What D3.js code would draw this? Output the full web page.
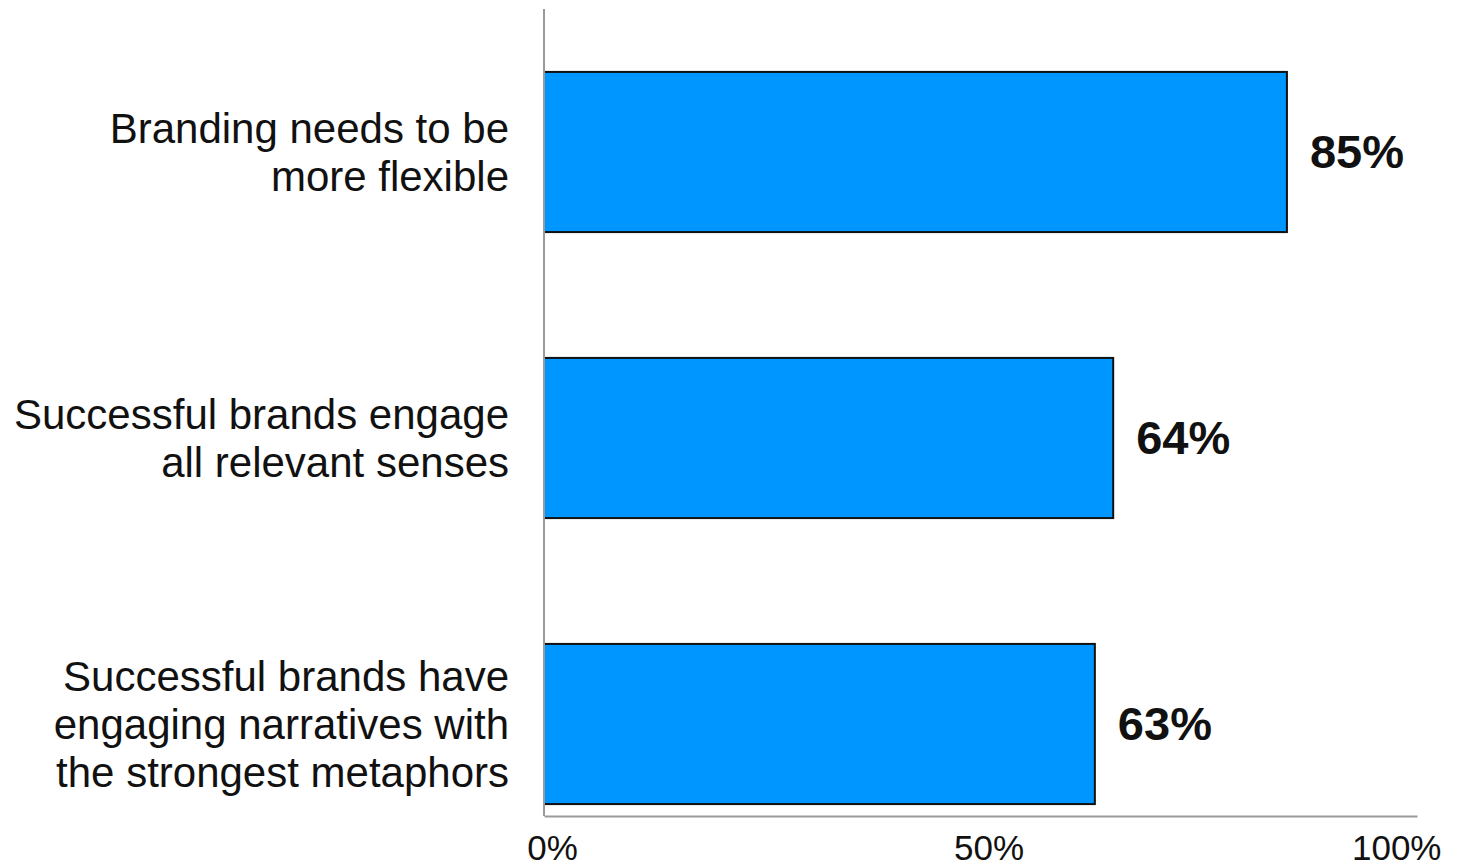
<!DOCTYPE html>
<html>
<head>
<meta charset="utf-8">
<script src="https://cdn.jsdelivr.net/npm/d3@7"></script>
<style>
  html, body { margin: 0; padding: 0; background: #ffffff; }
  svg { display: block; }
</style>
</head>
<body>
<svg id="chart" width="1460" height="867"></svg>
<script>
const categories = [
  "Branding needs to be\nmore flexible",
  "Successful brands engage\nall relevant senses",
  "Successful brands have\nengaging narratives with\nthe strongest metaphors"
];
const values = [85.1, 65.2, 63.1];
const valueLabels = ["85%", "64%", "63%"];
const tickValues = [0, 50, 100];

const svg = d3.select("#chart");
const font = "'Liberation Sans', Arial, Helvetica, sans-serif";

const x = d3.scaleLinear().domain([0, 100]).range([544, 1417]);
const y = d3.scaleBand().domain(categories).range([9, 867]).paddingInner(0.44).paddingOuter(0.22);

// bars
svg.append("g").selectAll("rect")
  .data(categories)
  .join("rect")
  .attr("x", x(0))
  .attr("y", d => y(d))
  .attr("width", (d, i) => x(values[i]) - x(0))
  .attr("height", y.bandwidth())
  .attr("fill", "#0096ff")
  .attr("stroke", "#111")
  .attr("stroke-width", 2);

// y axis line
svg.append("line")
  .attr("x1", x(0)).attr("x2", x(0))
  .attr("y1", 9).attr("y2", 816)
  .attr("stroke", "#9a9a9a").attr("stroke-width", 2);

// x axis
const xAxis = d3.axisBottom(x).tickValues(tickValues).tickSize(0).tickFormat(d => d + "%");
const gx = svg.append("g").attr("transform", "translate(0,816)").call(xAxis);
gx.select(".domain").attr("stroke", "#9a9a9a").attr("stroke-width", 2);
gx.selectAll("text")
  .attr("font-family", font)
  .attr("font-size", 35)
  .attr("fill", "#111")
  .attr("dy", null)
  .attr("y", 44)
  .attr("text-anchor", d => d === 100 ? "end" : "middle")
  .attr("dx", d => d === 100 ? 24 : 8);

// category labels
const lineH = 48;
svg.append("g").selectAll("text")
  .data(categories)
  .join("text")
  .attr("font-family", font)
  .attr("font-size", 42)
  .attr("fill", "#111")
  .attr("text-anchor", "end")
  .each(function(d) {
    const lines = d.split("\n");
    const cy = y(d) + y.bandwidth() / 2;
    const startY = cy - (lines.length - 1) * lineH / 2;
    d3.select(this).selectAll("tspan")
      .data(lines)
      .join("tspan")
      .attr("x", 509)
      .attr("y", (l, j) => startY + j * lineH)
      .attr("dy", "0.35em")
      .text(l => l);
  });

// value labels
svg.append("g").selectAll("text")
  .data(categories)
  .join("text")
  .attr("font-family", font)
  .attr("font-size", 47)
  .attr("font-weight", "bold")
  .attr("fill", "#111")
  .attr("x", (d, i) => x(values[i]) + 23)
  .attr("y", d => y(d) + y.bandwidth() / 2)
  .attr("dy", "0.35em")
  .text((d, i) => valueLabels[i]);
</script>
</body>
</html>
